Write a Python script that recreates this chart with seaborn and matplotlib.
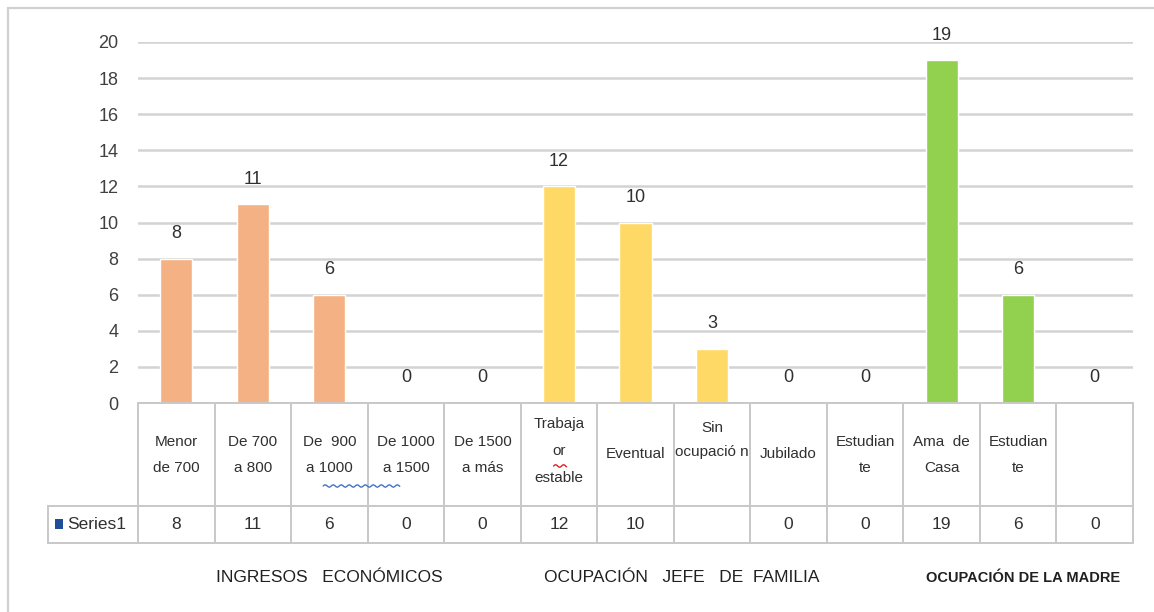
import numpy as np
import pandas as pd
import seaborn as sns
import matplotlib
matplotlib.use("Agg")
import matplotlib.pyplot as plt
from matplotlib import font_manager
from matplotlib.patches import Rectangle
from matplotlib.lines import Line2D

# ---- data -------------------------------------------------------------
header_labels = [
    "Menor\nde 700", "De 700\na 800", "De  900\na 1000", "De 1000\na 1500", "De 1500\na más",
    "Trabaja\nor\nestable", "Eventual", "Sin\nocupació n", "Jubilado", "Estudian\nte",
    "Ama  de\nCasa", "Estudian\nte", "",
]
bar_values = [8, 11, 6, 0, 0, 12, 10, 3, 0, 0, 19, 6, 0]
table_values = ["8", "11", "6", "0", "0", "12", "10", "", "0", "0", "19", "6", "0"]
groups = ["ingresos"] * 5 + ["jefe"] * 5 + ["madre"] * 3
group_titles = ["INGRESOS   ECONÓMICOS", "OCUPACIÓN   JEFE   DE  FAMILIA", "OCUPACIÓN DE LA MADRE"]
group_centres = [2.0, 6.6, 11.06]
series_name = "Series1"
y_ticks = [0, 2, 4, 6, 8, 10, 12, 14, 16, 18, 20]

palette = {"ingresos": "#F4B183", "jefe": "#FFD966", "madre": "#92D050"}

# ---- fonts ------------------------------------------------------------
available = {f.name for f in font_manager.fontManager.ttflist}
base_font = "Liberation Sans Narrow" if "Liberation Sans Narrow" in available else "Liberation Sans"

sns.set_theme(style="white")
plt.rcParams["font.family"] = [base_font, "DejaVu Sans"]
text_color = "#404040"

W, H = 1154, 612
fig = plt.figure(figsize=(W / 100, H / 100), dpi=100)
fig.patch.set_facecolor("white")

# plot area in pixel terms
left_px, right_px, top_px, bottom_px = 138, 1133, 42, 403
ax = fig.add_axes([left_px / W, 1 - bottom_px / H, (right_px - left_px) / W, (bottom_px - top_px) / H])
ax_h_px = bottom_px - top_px

df = pd.DataFrame({"pos": np.arange(len(bar_values)), "value": bar_values, "grupo": groups})
sns.barplot(data=df, x="pos", y="value", hue="grupo", palette=palette, dodge=False,
            width=0.42, legend=False, ax=ax, saturation=1)

ax.set_xlim(-0.5, len(bar_values) - 0.5)
ax.set_ylim(0, 20)
ax.set_yticks(y_ticks)
ax.set_yticklabels([str(t) for t in y_ticks], fontsize=13, color=text_color)
ax.tick_params(axis="y", length=0, pad=14)
ax.set_xticks([])
ax.set_xlabel("")
ax.set_ylabel("")
for s in ax.spines.values():
    s.set_visible(False)
ax.yaxis.grid(True, color="#D3D3D3", linewidth=1.8)
ax.set_axisbelow(True)

# value labels above the bars
for i, v in enumerate(bar_values):
    ax.annotate(str(v), (i, v), xytext=(0, 18), textcoords="offset points",
                ha="center", va="center", fontsize=13, color="#303030")

# ---- data table below the plot -----------------------------------------
def ay(px):
    # pixel row below the top of the axes -> axes fraction
    return 1 - (px - top_px) / ax_h_px

tr = ax.get_xaxis_transform()
row_mid_px, row_bot_px = 506, 543
line_kw = dict(color="#C8C8C8", linewidth=1.4, transform=tr, clip_on=False)
n = len(bar_values)
series_left = -0.5 - (left_px - 48) / ((right_px - left_px) / n)

# horizontal rules
ax.add_line(Line2D([-0.5, n - 0.5], [ay(bottom_px)] * 2, **line_kw))
ax.add_line(Line2D([series_left, n - 0.5], [ay(row_mid_px)] * 2, **line_kw))
ax.add_line(Line2D([series_left, n - 0.5], [ay(row_bot_px)] * 2, **line_kw))
# vertical rules
for k in range(n + 1):
    ax.add_line(Line2D([k - 0.5, k - 0.5], [ay(bottom_px), ay(row_bot_px)], **line_kw))
ax.add_line(Line2D([series_left, series_left], [ay(row_mid_px), ay(row_bot_px)], **line_kw))

# category headers
head_y = ay((bottom_px + row_mid_px) / 2)
for i, lab in enumerate(header_labels):
    y, ls = head_y, 2.0
    if lab.startswith("Sin"):
        y, ls = ay(440), 1.9
    elif lab.startswith("Trabaja"):
        y, ls = ay(451), 2.15
    elif lab.startswith("Estudian") or lab.startswith("Menor") or lab.startswith("De") or lab.startswith("Ama"):
        y = ay(455)
    ax.text(i, y, lab, transform=tr, ha="center", va="center", fontsize=11,
            color="#303030", linespacing=ls, clip_on=False)

# value row
val_y = ay((row_mid_px + row_bot_px) / 2)
for i, t in enumerate(table_values):
    ax.text(i, val_y, t, transform=tr, ha="center", va="center", fontsize=12.5,
            color="#303030", clip_on=False)

# legend key + series name
key_x = series_left + 0.09
ax.add_patch(Rectangle((key_x, ay(529)), 0.11, ay(519) - ay(529), transform=tr,
                       facecolor="#1F4E9A", edgecolor="none", clip_on=False))
ax.text(key_x + 0.16, val_y, series_name, transform=tr, ha="left", va="center",
        fontsize=12.5, color="#303030", clip_on=False)

# spelling-checker style wavy underlines
def wavy(x0, x1, ypx, color):
    xs = np.linspace(x0, x1, 60)
    ys = ay(ypx) + (np.sin(np.linspace(0, (x1 - x0) * 60, 60)) * 1.2) / ax_h_px
    ax.add_line(Line2D(xs, ys, color=color, linewidth=1.0, transform=tr, clip_on=False))

wavy(1.92, 2.92, 486, "#4472C4")
wavy(4.93, 5.1, 466, "#E02020")

# group titles
for k, (title, cx) in enumerate(zip(group_titles, group_centres)):
    if k == 2:
        ax.text(cx, ay(578), title, transform=tr, ha="center", va="center", fontsize=10.5,
                fontweight="bold", color="#202020", clip_on=False)
    else:
        ax.text(cx, ay(578), title, transform=tr, ha="center", va="center", fontsize=12.5,
                color="#202020", clip_on=False)

# chart frame
fig.add_artist(Rectangle((8 / W, -0.1), 1.2, 1 - 8 / H + 0.1, transform=fig.transFigure,
                         facecolor="none", edgecolor="#D0D0D0", linewidth=1.6))

fig.savefig("out.png", dpi=100, facecolor="white")
